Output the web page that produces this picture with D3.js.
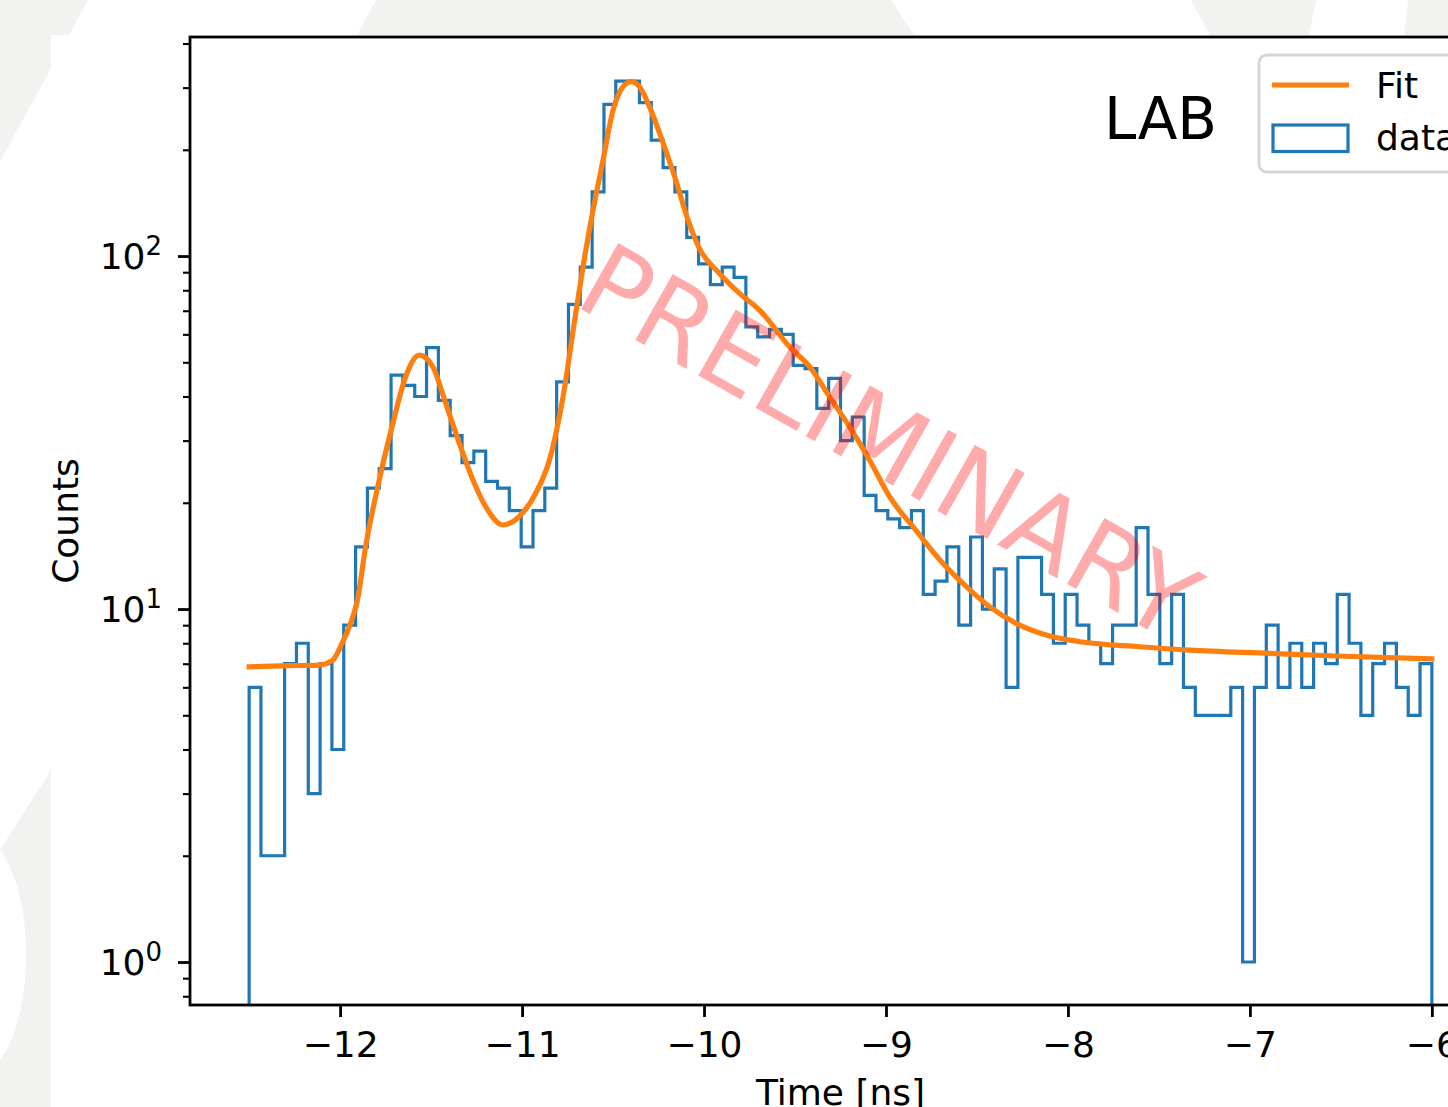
<!DOCTYPE html>
<html><head><meta charset="utf-8">
<script src="https://cdn.jsdelivr.net/npm/d3@7"></script>
<style>
body{margin:0;background:#fff;}
svg{display:block;}
text{font-family:"DejaVu Sans",sans-serif;}
</style>
</head><body>
<svg id="c" width="1448" height="1107"></svg>
<script>
// ---- data ----
const binStart = -12.5;
const binWidth = 0.065;
const counts = [6,2,2,7,8,3,7,4,9,15,
  22,25,46,43,40,55,39,31,26,28,
  23,22,19,15,19,22,44,73,93,152,
  269,313,313,272,213,178,152,113,95,83,
  93,87,63,59,62,60,49,48,37,45,
  30,35,21,19,18,17,19,11,12,15,
  9,16,10,13,6,14,14,11,8,11,
  9,8,7,9,9,17,11,7,11,6,
  5,5,5,6,1,6,9,6,8,6,
  8,7,11,8,5,7,8,6,5,7];
const fitX = [-12.5,-12.28,-12.12,-12.04,-11.99,-11.93,-11.905,-11.86,-11.785,-11.71,-11.64,-11.565,-11.49,-11.42,-11.345,-11.27,-11.2,-11.105,-11.015,-10.925,-10.85,-10.775,-10.715,-10.665,-10.61,-10.555,-10.5,-10.445,-10.4,-10.355,-10.3,-10.225,-10.155,-10.1,-10.025,-9.915,-9.805,-9.695,-9.53,-9.42,-9.31,-9.2,-9.09,-8.98,-8.835,-8.705,-8.56,-8.43,-8.285,-8.12,-7.935,-7.605,-7.33,-6.89,-6.525,-6.0];
const fitY = [6.86,6.91,6.94,7.17,7.99,9.51,10.6,15.0,23.2,33.6,45.5,52.4,48.5,38.3,29.5,23.2,19.5,17.3,18.3,21.3,26.4,39.9,63.7,93.3,135,187,259,302,312,302,265,209,164,132,105,89.3,78.4,70.3,55.3,48.6,39.9,32.8,26.4,20.8,16.7,13.8,11.6,10.15,9.11,8.44,8.08,7.82,7.65,7.49,7.36,7.22];
const xTicks = [-12,-11,-10,-9,-8,-7,-6];
const yTicks = [1,10,100];
const yMinorTicks = [0.8,0.9,2,3,4,5,6,7,8,9,20,30,40,50,60,70,80,90,200,300,400];
const legendLabels = ["Fit","data"];
const xLabel = "Time [ns]";
const yLabel = "Counts";
const annotation = "LAB";
const watermark = "PRELIMINARY";

// ---- layout ----
const svg = d3.select("#c");
const W = 1448, H = 1107;
const gray = "#f2f2f0";
svg.append("rect").attr("width",W).attr("height",H).attr("fill","#fff");
// background decoration
const bgPolys = [
  [[0,0],[88,0],[0,162]],
  [[376,0],[891,0],[914,35],[357,35]],
  [[1191,0],[1316,0],[1309,35],[1210,35]],
  [[1408,0],[1448,0],[1448,35],[1404,35]],
  [[51,770],[51,1107],[0,1107],[0,850]]
];
svg.selectAll("polygon.bg").data(bgPolys).join("polygon")
  .attr("points",d=>d.map(p=>p.join(",")).join(" ")).attr("fill",gray);
svg.append("ellipse").attr("cx",-22).attr("cy",955).attr("rx",48).attr("ry",118).attr("fill","#fff");
svg.append("rect").attr("x",51).attr("y",35).attr("width",W-51).attr("height",H-35).attr("fill","#fff");

const L = 190, T = 37, B = 1005;
const x = d3.scaleLinear().domain([-12.825,-5.675]).range([L, 1491]);
const y = d3.scaleLog().domain([0.7555, 417.4]).range([B, T]);
const R = x(-5.675);

svg.append("clipPath").attr("id","clip").append("rect")
  .attr("x",L).attr("y",T).attr("width",R-L).attr("height",B-T);
const plot = svg.append("g").attr("clip-path","url(#clip)");

// histogram step outline
const edges = d3.range(counts.length+1).map(i => binStart + i*binWidth);
let p = `M${x(edges[0])},${B}`;
counts.forEach((c,i)=>{ p += `V${y(c)}H${x(edges[i+1])}`; });
p += `V${B}`;
plot.append("path").attr("d",p).attr("fill","none")
  .attr("stroke","#1f77b4").attr("stroke-width",3.2).attr("stroke-linejoin","miter");

// fit line
const line = d3.line().x(d=>x(d[0])).y(d=>y(d[1])).curve(d3.curveMonotoneX);
plot.append("path").attr("d",line(fitX.map((v,i)=>[v,fitY[i]])))
  .attr("fill","none").attr("stroke","#ff7f0e").attr("stroke-width",5.2).attr("stroke-linecap","square");

// axes
const fs = 36;
const gx = svg.append("g").attr("transform",`translate(0,${B})`)
  .call(d3.axisBottom(x).tickValues(xTicks).tickSize(12).tickPadding(14)
        .tickFormat(d => d<0 ? "\u2212"+Math.abs(d) : String(d)));
gx.select(".domain").remove();
gx.selectAll(".tick line").attr("stroke","#000").attr("stroke-width",2.8);
gx.selectAll(".tick text").attr("font-size",fs).attr("fill","#000").attr("font-family","DejaVu Sans");

const gy = svg.append("g").attr("transform",`translate(${L},0)`)
  .call(d3.axisLeft(y).tickValues(yTicks).tickSize(12).tickFormat(""));
gy.select(".domain").remove();
gy.selectAll(".tick line").attr("stroke","#000").attr("stroke-width",2.8);
const gym = svg.append("g").attr("transform",`translate(${L},0)`)
  .call(d3.axisLeft(y).tickValues(yMinorTicks).tickSize(7).tickFormat(""));
gym.select(".domain").remove();
gym.selectAll(".tick line").attr("stroke","#000").attr("stroke-width",2.1);

yTicks.forEach(v=>{
  const t = svg.append("text").attr("x",162).attr("y",y(v)+13)
    .attr("text-anchor","end").attr("font-size",fs).attr("fill","#000");
  t.append("tspan").text("10");
  t.append("tspan").attr("dy",-14).attr("font-size",26).text(String(Math.round(Math.log10(v))));
});

// frame
svg.append("rect").attr("x",L).attr("y",T).attr("width",R-L).attr("height",B-T)
  .attr("fill","none").attr("stroke","#000").attr("stroke-width",2.8);

// axis labels
svg.append("text").attr("x",(L+R)/2).attr("y",1105).attr("text-anchor","middle")
  .attr("font-size",fs).attr("fill","#000").text(xLabel);
svg.append("text").attr("transform",`translate(78,${(T+B)/2}) rotate(-90)`)
  .attr("text-anchor","middle").attr("font-size",fs).attr("fill","#000").text(yLabel);

// annotation
svg.append("text").attr("x",1104).attr("y",139).attr("font-size",58).attr("fill","#000").text(annotation);

// legend
const lg = svg.append("g");
lg.append("rect").attr("x",1259).attr("y",55).attr("width",260).attr("height",117)
  .attr("rx",8).attr("fill","#fff").attr("fill-opacity",0.8)
  .attr("stroke","#d6d6d6").attr("stroke-width",2.8);
lg.append("line").attr("x1",1272).attr("x2",1349).attr("y1",85).attr("y2",85)
  .attr("stroke","#ff7f0e").attr("stroke-width",5);
lg.append("rect").attr("x",1273).attr("y",125).attr("width",75).attr("height",26.5)
  .attr("fill","none").attr("stroke","#1f77b4").attr("stroke-width",3.2);
lg.append("text").attr("x",1376).attr("y",98).attr("font-size",fs).attr("fill","#000").text(legendLabels[0]);
lg.append("text").attr("x",1376).attr("y",150).attr("font-size",fs).attr("fill","#000").text(legendLabels[1]);

// watermark
svg.append("text").attr("transform","translate(572,304) rotate(29.5)")
  .attr("font-size",104).attr("fill","red").attr("fill-opacity",0.33).text(watermark);
</script>
</body></html>
